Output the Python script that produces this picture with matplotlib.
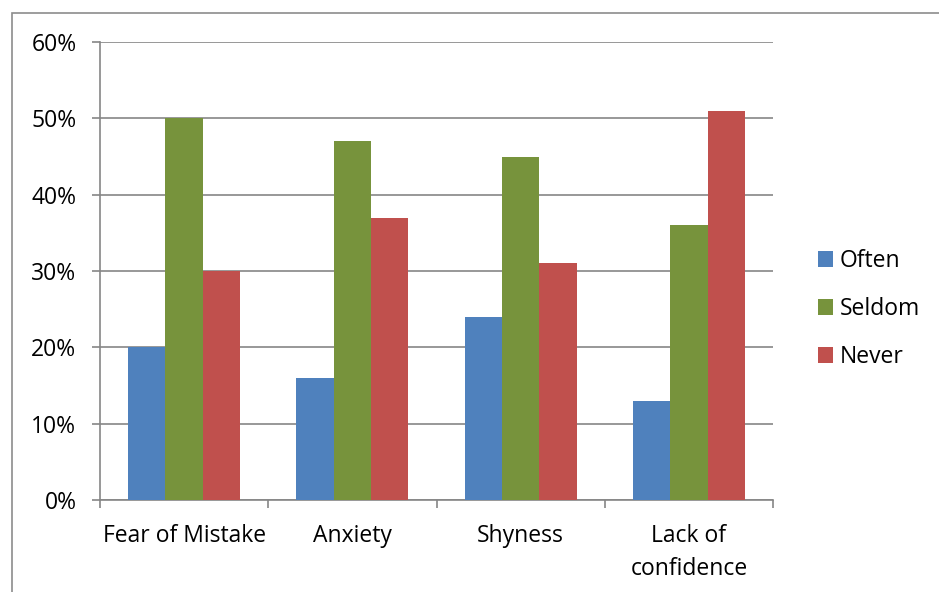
import numpy as np
import matplotlib.pyplot as plt
from matplotlib.patches import Rectangle
from matplotlib.ticker import FuncFormatter, FixedLocator

categories = ["Fear of Mistake", "Anxiety", "Shyness", "Lack of\nconfidence"]
series_names = ["Often", "Seldom", "Never"]
often = [20, 16, 24, 13]
seldom = [50, 47, 45, 36]
never = [30, 37, 31, 51]
y_ticks = [0, 10, 20, 30, 40, 50, 60]

colors = ["#4F81BD", "#77933C", "#C0504D"]
grid_color = "#868686"
fs = 16.5

plt.rcParams["font.family"] = ["Open Sans", "DejaVu Sans"]

fig = plt.figure(figsize=(9.39, 5.92), dpi=100)
W, H = 939, 592
ax = fig.add_axes([100 / W, 92 / H, 673 / W, 458 / H])

x = np.arange(len(categories))
bar_w = 1 / (3 + 1.5)
for i, (name, vals) in enumerate(zip(series_names, [often, seldom, never])):
    ax.bar(x + (i - 1) * bar_w, vals, width=bar_w, color=colors[i],
           label=name, zorder=3)

ax.set_xlim(-0.5, len(categories) - 0.5)
ax.set_ylim(0, 60)
ax.yaxis.set_major_locator(FixedLocator(y_ticks))
ax.yaxis.set_major_formatter(FuncFormatter(lambda v, p: f"{v:.0f}%"))
ax.grid(axis="y", color=grid_color, linewidth=1.2, zorder=0)

# category labels centred, ticks on the group boundaries
ax.set_xticks(x)
ax.set_xticklabels(categories, fontsize=fs, linespacing=1.5)
ax.xaxis.set_minor_locator(FixedLocator(np.arange(-0.5, len(categories), 1)))
ax.tick_params(axis="x", which="major", length=0, pad=17)
ax.tick_params(axis="x", which="minor", length=6, width=1.2, color=grid_color)
ax.tick_params(axis="y", length=6, width=1.2, color=grid_color, pad=11,
               labelsize=fs)

for side in ["top", "right"]:
    ax.spines[side].set_visible(False)
for side in ["left", "bottom"]:
    ax.spines[side].set_color(grid_color)
    ax.spines[side].set_linewidth(1.2)

fig.legend(loc="center left", bbox_to_anchor=(797 / W, 1 - 309 / H),
           frameon=False, fontsize=fs, handlelength=0.65, handleheight=0.65,
           handletextpad=0.3, labelspacing=1.05)

# outer chart border
fig.patches.append(Rectangle((12 / W, -0.1), 1.2, 1 - 13 / H + 0.1,
                             transform=fig.transFigure, fill=False,
                             edgecolor="#8C8C8C", linewidth=1.2))

fig.savefig("out.png", dpi=100)
